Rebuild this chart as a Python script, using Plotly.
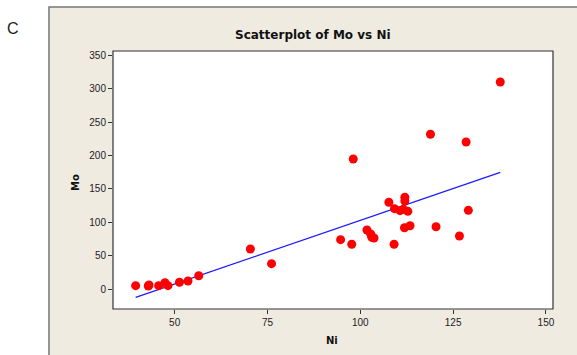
import numpy as np
import plotly.graph_objects as go

# Nickel and molybdenum measurements
ni = [39.5, 42.9, 43.1, 45.7, 47.4, 48.2, 51.3, 53.6, 56.5, 70.4, 76.1,
      94.7, 97.7, 98.1, 101.8, 102.8, 103.1, 103.7, 107.7, 109.1, 109.2,
      110.7, 111.6, 111.9, 112.0, 112.0, 112.8, 113.4, 118.9, 120.4,
      126.7, 128.5, 129.1, 137.7]
mo = [5.4, 4.9, 6.4, 5.4, 9.9, 5.4, 10.5, 12.4, 20.3, 60.3, 38.3,
      74.2, 67.3, 194.9, 88.7, 82.7, 77.8, 76.7, 130.1, 67.3, 120.6,
      117.6, 119.6, 92.1, 137.6, 132.0, 116.6, 95.1, 231.8, 93.6,
      79.7, 220.3, 118.1, 310.0]

x_ticks = [50, 75, 100, 125, 150]
y_ticks = [0, 50, 100, 150, 200, 250, 300, 350]

# Least-squares regression line across the observed Ni range
slope, intercept = np.polyfit(ni, mo, 1)
fit_x = [min(ni), max(ni)]
fit_y = [intercept + slope * v for v in fit_x]

fig = go.Figure()
fig.add_trace(go.Scatter(
    x=fit_x, y=fit_y, mode="lines",
    line=dict(color="#1a1aff", width=1.2), hoverinfo="skip", showlegend=False))
fig.add_trace(go.Scatter(
    x=ni, y=mo, mode="markers",
    marker=dict(color="#ff0000", size=9, line=dict(width=0)), showlegend=False))

panel = "#efebe1"
fig.add_shape(type="rect", xref="paper", yref="paper",
              x0=-0.1455, x1=1.2, y0=-0.3, y1=1.1705,
              fillcolor=panel, line=dict(color="#777777", width=1.5), layer="below")
fig.add_shape(type="rect", xref="paper", yref="paper",
              x0=0, x1=1, y0=0, y1=1,
              fillcolor="white", line=dict(color="#333333", width=1.2), layer="below")

fig.add_annotation(text="<b>Scatterplot of Mo vs Ni</b>", xref="paper", yref="paper",
                   x=0.4545, y=1.062, xanchor="center", yanchor="middle",
                   showarrow=False,
                   font=dict(family="DejaVu Sans", size=12, color="#111111"))
fig.add_annotation(text="<b>Mo</b>", xref="paper", yref="paper",
                   x=-0.0864, y=0.492, xanchor="center", yanchor="middle",
                   textangle=-90, showarrow=False,
                   font=dict(family="DejaVu Sans", size=10, color="#111111"))
fig.add_annotation(text="<b>Ni</b>", xref="paper", yref="paper",
                   x=0.4966, y=-0.124, xanchor="center", yanchor="middle",
                   showarrow=False,
                   font=dict(family="DejaVu Sans", size=10, color="#111111"))
fig.add_annotation(text="C", xref="paper", yref="paper",
                   x=-0.2273, y=1.089, xanchor="center", yanchor="middle",
                   showarrow=False,
                   font=dict(family="Liberation Sans", size=16, color="#222222"))

fig.update_xaxes(range=[33.4, 151.9], tickvals=x_ticks, ticks="outside",
                 ticklen=4, tickcolor="#333333", showgrid=False, zeroline=False,
                 showline=False,
                 tickfont=dict(family="Liberation Sans", size=10, color="#222222"))
fig.update_yaxes(range=[-29.5, 356.4], tickvals=y_ticks, ticks="outside",
                 ticklen=4, tickcolor="#333333", showgrid=False, zeroline=False,
                 showline=False,
                 tickfont=dict(family="Liberation Sans", size=10, color="#222222"))

fig.update_layout(
    width=577, height=355,
    margin=dict(l=113, r=24, t=51, b=46),
    paper_bgcolor="white", plot_bgcolor="rgba(0,0,0,0)",
    showlegend=False,
)

fig.write_html("out.html")
